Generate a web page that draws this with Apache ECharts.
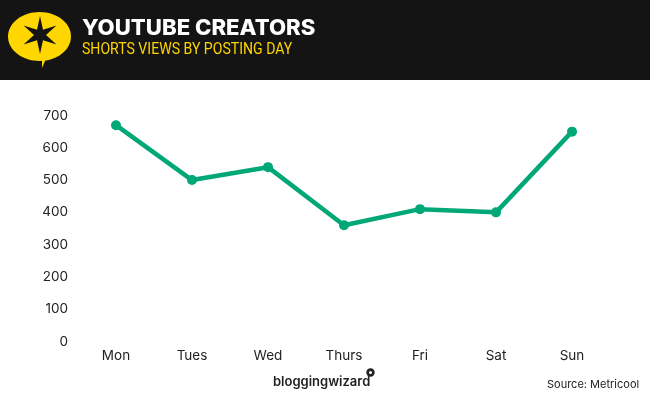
<!DOCTYPE html>
<html><head><meta charset="utf-8">
<style>html,body{margin:0;padding:0;background:#fff}#c{width:650px;height:400px}</style>
<script src="https://cdn.jsdelivr.net/npm/echarts@6/dist/echarts.min.js"></script>
</head><body><div id="c"></div>
<script>
const categories = ['Mon','Tues','Wed','Thurs','Fri','Sat','Sun'];
const views = [670,500,540,360,410,400,650];
const yTicks = {min:0,max:700,interval:100};
const title = 'YOUTUBE CREATORS';
const subtitle = 'SHORTS VIEWS BY POSTING DAY';
const source = 'Source: Metricool';
const brand = 'bloggingwizard';
const chart = echarts.init(document.getElementById('c'),null,{renderer:'canvas'});
const star=[];
for(let i=0;i<12;i++){const a=Math.PI/6*i-Math.PI/2;const r=i%2===0?19:6;star.push([40+r*Math.cos(a),35+r*Math.sin(a)]);}
chart.setOption({
 animation:false,
 backgroundColor:'#fff',
 grid:{left:78,right:40,top:115.5,bottom:58.5},
 xAxis:{type:'category',data:categories,boundaryGap:true,axisLine:{show:false},axisTick:{show:false},
  axisLabel:{color:'#222',fontFamily:'Inter',fontSize:13.5,margin:7}},
 yAxis:{type:'value',min:yTicks.min,max:yTicks.max,interval:yTicks.interval,axisLine:{show:false},axisTick:{show:false},splitLine:{show:false},
  axisLabel:{color:'#222',fontFamily:'Inter',fontSize:13.5,margin:10}},
 series:[{type:'line',data:views,symbol:'circle',symbolSize:10,lineStyle:{color:'#00a878',width:4.5},itemStyle:{color:'#00a878'}}],
 graphic:[
  {type:'rect',shape:{x:0,y:0,width:650,height:80},style:{fill:'#141414'},z:1},
  {type:'ellipse',shape:{cx:39.5,cy:36.5,rx:31.5,ry:24.5},style:{fill:'#ffd600'},z:2},
  {type:'polygon',shape:{points:[[38,58],[47,58],[45,61],[42,68],[42,61]]},style:{fill:'#ffd600'},z:2},
  {type:'polygon',shape:{points:star},style:{fill:'#141414'},z:3},
  {type:'text',x:82,y:18,z:4,scaleX:1.03,style:{text:title,fill:'#fff',font:'800 21.5px Inter'}},
  {type:'text',x:82,y:42,z:4,scaleX:0.88,style:{text:subtitle,fill:'#ffd600',font:'400 16px Roboto'}},
  {type:'text',x:273,y:376,z:4,style:{text:brand,fill:'#222',font:'600 13px Inter'}},
  {type:'circle',shape:{cx:370.5,cy:372.5,r:4.2},style:{fill:'#222'},z:4},
  {type:'circle',shape:{cx:370.5,cy:372.5,r:1.5},style:{fill:'#fff'},z:5},
  {type:'text',x:547,y:379,z:4,style:{text:source,fill:'#222',font:'400 11px Inter'}}
 ]
});
</script></body></html>
